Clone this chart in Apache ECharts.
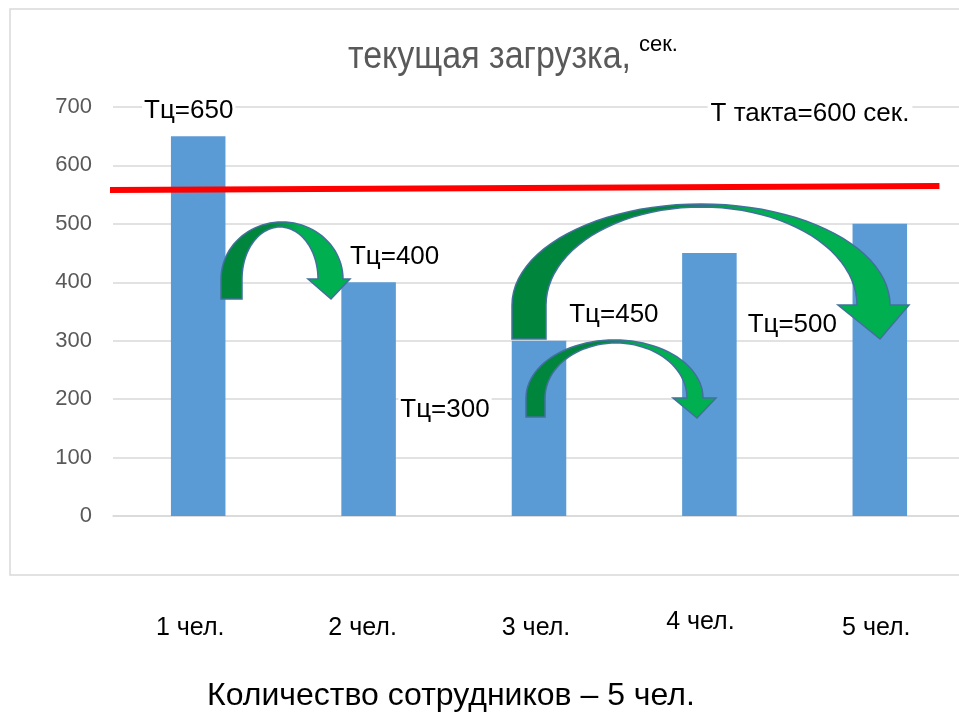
<!DOCTYPE html>
<html><head><meta charset="utf-8">
<script src="https://cdn.jsdelivr.net/npm/echarts@6.0.0/dist/echarts.min.js"></script>
<style>html,body{margin:0;padding:0;background:#fff}#c{width:959px;height:713px}</style>
</head><body><div id="c"></div>
<script>
// ---- data ----
const categories = ['1 чел.', '2 чел.', '3 чел.', '4 чел.', '5 чел.'];
const cycleTimes = [650, 400, 300, 450, 500];
const taktLineValues = [558, 565];
const taktLineExtent = [-0.008, 0.97];
const yMin = 0, yMax = 700, yInterval = 100;
const titleText = 'текущая загрузка,';
const titleUnit = 'сек.';
const taktText = 'Т такта=600 сек.';
const xAxisTitle = 'Количество сотрудников – 5 чел.';
const labelPrefix = 'Тц=';

// ---- styles / placement ----
const labelOffsets = [[-9.5, -25], [26, -25], [-94, 69], [-95.5, 62], [-87.5, 101]];
const catLabelShiftX = [-8, -6, -3, -9, -3.5];
const catLabelShiftY = [0, 0, 0, -6, 0];
const arrowShapes = [
  {L:221, Li:242, B:299, Y:279, To:222, Ti:227, Ri:318, Ro:343, HL:308, HR:350, TX:331, TY:299},
  {L:526, Li:545, B:417, Y:398, To:340, Ti:343, Ri:687, Ro:703, HL:673, HR:716, TX:697, TY:418},
  {L:512, Li:546, B:339, Y:305, To:204, Ti:207, Ri:857, Ro:890, HL:838, HR:909, TX:880, TY:339}
];
function arrowPoints(a) {
  const N = 48, pts = [[a.L, a.B], [a.L, a.Y]];
  const cxo = (a.L + a.Ro) / 2, rxo = (a.Ro - a.L) / 2, ryo = a.Y - a.To;
  for (let k = 1; k < N; k++) { const t = Math.PI - Math.PI * k / N; pts.push([cxo + rxo * Math.cos(t), a.Y - ryo * Math.sin(t)]); }
  pts.push([a.Ro, a.Y], [a.HR, a.Y], [a.TX, a.TY], [a.HL, a.Y], [a.Ri, a.Y]);
  const cxi = (a.Li + a.Ri) / 2, rxi = (a.Ri - a.Li) / 2, ryi = a.Y - a.Ti;
  for (let k = 1; k < N; k++) { const t = Math.PI * k / N; pts.push([cxi + rxi * Math.cos(t), a.Y - ryi * Math.sin(t)]); }
  pts.push([a.Li, a.Y], [a.Li, a.B]);
  return pts;
}
const SANS = "'Liberation Sans', Arial, sans-serif";

// fit the condensed-looking title into its width
const TITLE_FONT = '38px ' + SANS;
const TITLE_WIDTH = 283;
const mctx = document.createElement('canvas').getContext('2d');
mctx.font = TITLE_FONT;
const titleScale = TITLE_WIDTH / mctx.measureText(titleText).width;

const catRich = {};
categories.forEach((c, i) => {
  const dx = catLabelShiftX[i], dy = catLabelShiftY[i];
  catRich['c' + i] = {fontSize: 25, fontFamily: SANS, color: '#000',
    padding: [6 + dy, dx < 0 ? -2 * dx : 0, dy < 0 ? -dy : 0, dx > 0 ? 2 * dx : 0]};
});

const chart = echarts.init(document.getElementById('c'), null, {renderer: 'canvas'});
const option = {
  backgroundColor: '#fff',
  animation: false,
  title: [
    {text: xAxisTitle, left: 202, top: 675, textStyle: {fontFamily: SANS, fontSize: 32, fontWeight: 'normal', color: '#000'}}
  ],
  grid: {left: 113, top: 107, width: 852, height: 409, containLabel: false, outerBoundsMode: 'none'},
  xAxis: [
    {type: 'category', data: categories,
     axisLine: {show: true, lineStyle: {color: '#d9d9d9', width: 1.5}},
     axisTick: {show: false},
     axisLabel: {margin: 94, color: '#000', fontFamily: SANS, fontSize: 25,
       formatter: (v, i) => '{c' + i + '|' + v + '}',
       rich: catRich}},
    {type: 'value', min: 0, max: 1, show: false}
  ],
  yAxis: {type: 'value', min: yMin, max: yMax, interval: yInterval,
    axisLine: {show: false}, axisTick: {show: false},
    axisLabel: {margin: 21, color: '#595959', fontFamily: SANS, fontSize: 22},
    splitLine: {lineStyle: {color: '#d9d9d9', width: 1.5}}},
  series: [
    {type: 'bar', xAxisIndex: 0, barCategoryGap: '68%',
     itemStyle: {color: '#5b9bd5'},
     data: cycleTimes.map((v, i) => ({value: v, label: {offset: labelOffsets[i]}})),
     label: {show: true, position: 'top', distance: 0, verticalAlign: 'middle',
       formatter: p => labelPrefix + p.value, color: '#000', fontFamily: SANS, fontSize: 26,
       backgroundColor: '#fff', padding: [1, 2]},
     z: 2},
    {type: 'line', xAxisIndex: 1, yAxisIndex: 0, clip: false, symbol: 'none', silent: true,
     data: taktLineExtent.map((x, i) => [x, taktLineValues[i]]),
     lineStyle: {color: '#ff0000', width: 6}, z: 3}
  ],
  graphic: [
    {type: 'rect', shape: {x: 10, y: 9, width: 980, height: 566}, style: {fill: 'none', stroke: '#d9d9d9', lineWidth: 1.5}, z: -1, silent: true},
    {type: 'text', silent: true, x: 348, y: 58, scaleX: titleScale, originX: 0,
     style: {text: titleText, x: 0, y: 0, align: 'left', verticalAlign: 'middle', font: TITLE_FONT, fill: '#595959'}},
    {type: 'text', silent: true, z: 5,
     style: {text: titleUnit, x: 638, y: 45, align: 'left', verticalAlign: 'middle', font: '22px ' + SANS, fill: '#000', backgroundColor: '#fff', padding: [0, 1]}},
    ...arrowShapes.map(a => ({type: 'polygon', z: 50, silent: true,
      shape: {points: arrowPoints(a)},
      style: {fill: {type: 'linear', x: 0, y: 0, x2: 1, y2: 0,
        colorStops: [{offset: 0, color: '#00853d'}, {offset: 0.38, color: '#00863d'}, {offset: 0.62, color: '#00b050'}, {offset: 1, color: '#00b050'}]},
        stroke: '#41719c', lineWidth: 1.5}})),
    {type: 'text', z: 60, silent: true, style: {text: taktText, x: 810, y: 114, align: 'center', verticalAlign: 'middle',
      font: '26px ' + SANS, fill: '#000', backgroundColor: '#fff', padding: [2, 3]}}
  ]
};
chart.setOption(option);
</script>
</body></html>
